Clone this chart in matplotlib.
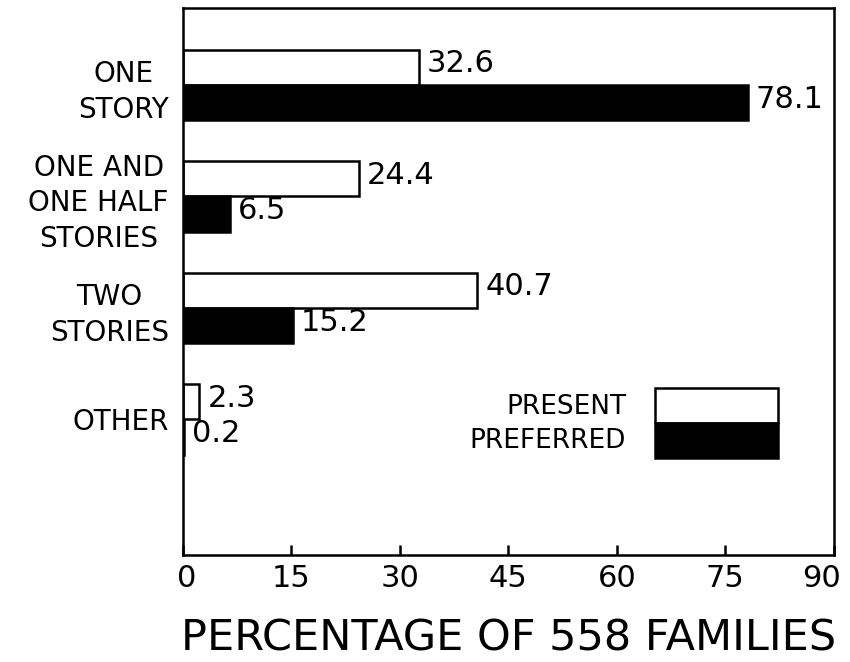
import numpy as np
import matplotlib.pyplot as plt
from matplotlib.transforms import ScaledTranslation

categories = ['ONE\nSTORY', 'ONE AND\nONE HALF\nSTORIES', 'TWO\nSTORIES', 'OTHER']
present = [32.6, 24.4, 40.7, 2.3]
preferred = [78.1, 6.5, 15.2, 0.2]
xticks = [0, 15, 30, 45, 60, 75, 90]

fig = plt.figure(figsize=(8.5, 6.62), dpi=100)
ax = fig.add_axes([0.215, 0.161, 0.766, 0.827])

y = np.arange(len(categories))
h = 0.315
ax.barh(y - h/2, present, height=h, color='white', edgecolor='black', linewidth=1.8)
ax.barh(y + h/2, preferred, height=h, color='black', edgecolor='black', linewidth=1.8)

for yi, v in zip(y, present):
    ax.text(v + 1.1, yi - h/2 - 0.03, f'{v}', va='center', ha='left', fontsize=22)
for yi, v in zip(y, preferred):
    ax.text(v + 1.1, yi + h/2 - 0.03, f'{v}', va='center', ha='left', fontsize=22)

ax.set_xlim(0, 90)
ax.set_ylim(3 + 1.22, -0.69)
ax.set_xticks(xticks)
ax.set_xticklabels([str(t) for t in xticks], fontsize=22)
ax.tick_params(axis='x', direction='in', length=7, width=1.8, pad=6)
# keep the last label inside the figure
last = ax.get_xticklabels()[-1]
last.set_transform(last.get_transform() + ScaledTranslation(-12/100, 0, fig.dpi_scale_trans))
first = ax.get_xticklabels()[0]
first.set_transform(first.get_transform() + ScaledTranslation(4/100, 0, fig.dpi_scale_trans))
ax.set_yticks(y)
ax.set_yticklabels(categories, fontsize=20, multialignment='center', linespacing=1.35)
ax.tick_params(axis='y', length=0, pad=10)
for s in ax.spines.values():
    s.set_linewidth(1.8)
ax.set_xlabel('PERCENTAGE OF 558 FAMILIES', fontsize=31, labelpad=18)

# legend box drawn as two stacked rectangles
ax.add_patch(plt.Rectangle((65.3, 2.72), 17.0, 0.315, facecolor='white', edgecolor='black', linewidth=1.8))
ax.add_patch(plt.Rectangle((65.3, 3.035), 17.0, 0.315, facecolor='black', edgecolor='black', linewidth=1.8))
ax.text(61.3, 2.89, 'PRESENT', ha='right', va='center', fontsize=19)
ax.text(61.3, 3.19, 'PREFERRED', ha='right', va='center', fontsize=19)

plt.savefig('out.png', dpi=100)
